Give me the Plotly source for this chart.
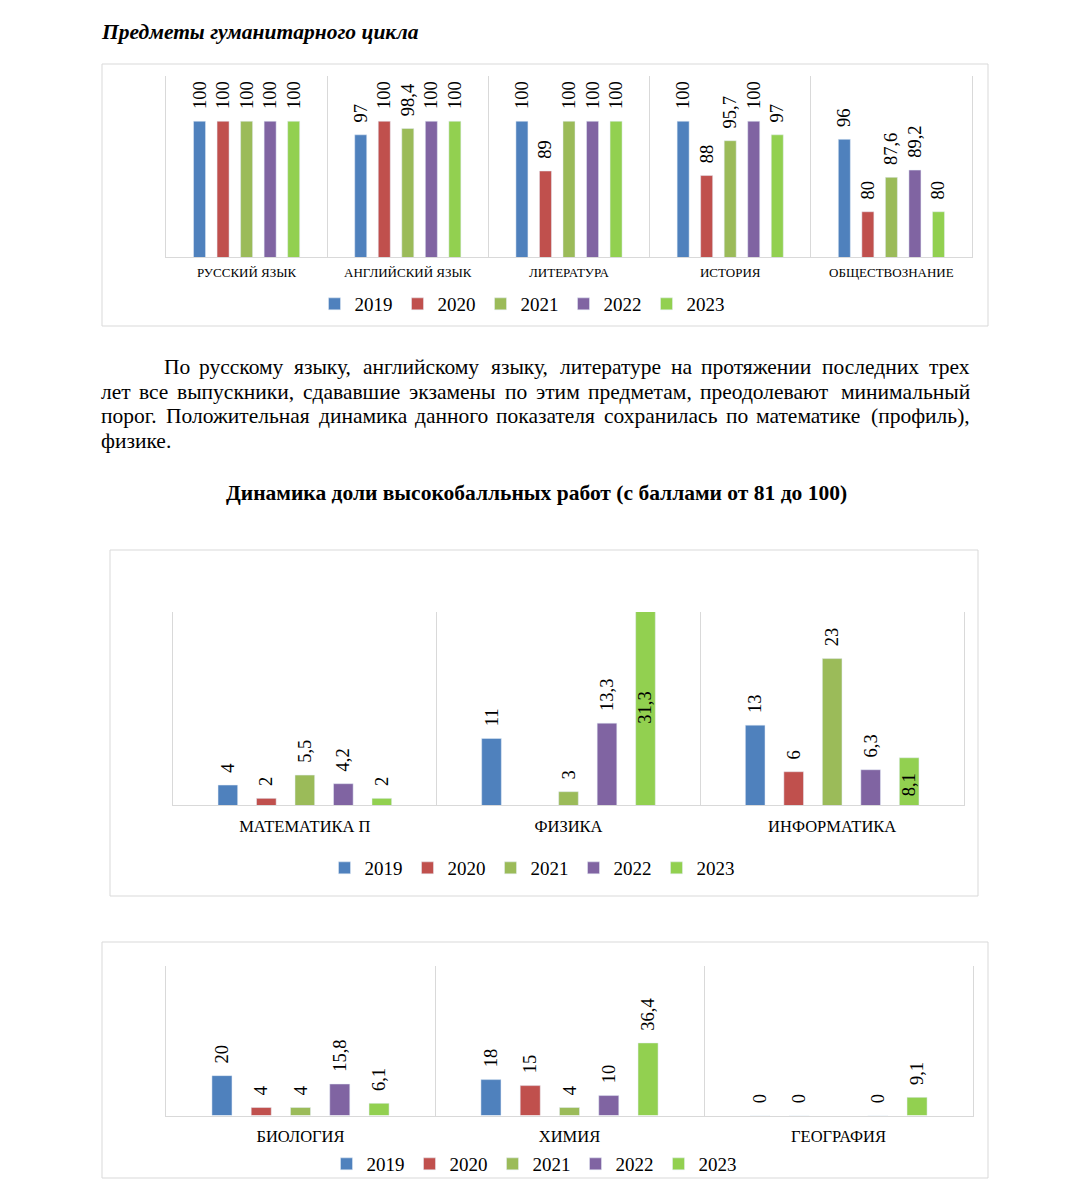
import plotly.graph_objects as go

# ---------------- data ----------------
years = ["2019", "2020", "2021", "2022", "2023"]
colors = ["#4F81BD", "#C0504D", "#9BBB59", "#8064A2", "#92D050"]

hum_cats = ["РУССКИЙ ЯЗЫК", "АНГЛИЙСКИЙ ЯЗЫК", "ЛИТЕРАТУРА", "ИСТОРИЯ", "ОБЩЕСТВОЗНАНИЕ"]
hum_2019 = [100, 97, 100, 100, 96]
hum_2020 = [100, 100, 89, 88, 80]
hum_2021 = [100, 98.4, 100, 95.7, 87.6]
hum_2022 = [100, 100, 100, 100, 89.2]
hum_2023 = [100, 100, 100, 97, 80]

hb1_cats = ["МАТЕМАТИКА П", "ФИЗИКА", "ИНФОРМАТИКА"]
hb1_2019 = [4, 11, 13]
hb1_2020 = [2, None, 6]
hb1_2021 = [5.5, 3, 23]
hb1_2022 = [4.2, 13.3, 6.3]
hb1_2023 = [2, 31.3, 8.1]

hb2_cats = ["БИОЛОГИЯ", "ХИМИЯ", "ГЕОГРАФИЯ"]
hb2_2019 = [20, 18, 0]
hb2_2020 = [4, 15, 0]
hb2_2021 = [4, 4, None]
hb2_2022 = [15.8, 10, 0]
hb2_2023 = [6.1, 36.4, 9.1]

heading = "Предметы гуманитарного цикла"
title2 = "Динамика доли высокобалльных работ (с баллами от 81 до 100)"
para_lines = [
    "По русскому языку, английскому языку, литературе на протяжении последних трех",
    "лет все выпускники, сдававшие экзамены по этим предметам, преодолевают минимальный",
    "порог. Положительная динамика данного показателя сохранилась по математике (профиль),",
    "физике.",
]

# ---------------- helpers ----------------
OFF = 8                       # page body margin
W, H = 1071 - 2 * OFF, 1200 - 2 * OFF
SERIF = "Liberation Serif"
GRID = "#D9D9D9"


def px(x):
    return (x - OFF) / W


def py(y):
    return 1 - (y - OFF) / H


def fmt(v):
    if v is None:
        return ""
    return f"{v:g}".replace(".", ",")


PAD = "\u00a0\u00a0"

fig = go.Figure()


def add_chart(cats, series, xa, ya, leg, clip, positions=None):
    for i, vals in enumerate(series):
        pos = positions[i] if positions and positions[i] else ["outside"] * len(vals)
        txt = []
        for v, p in zip(vals, pos):
            if v is None:
                txt.append("")
            elif p == "outside":
                txt.append(PAD + fmt(v))
            else:
                txt.append(fmt(v))
        fig.add_trace(go.Bar(
            x=cats, y=vals, name=years[i], marker_color=colors[i],
            text=txt, textposition=pos, textangle=-90,
            insidetextanchor="middle",
            textfont=dict(family=SERIF, size=18.5, color="black"),
            constraintext="none", cliponaxis=clip,
            xaxis=xa, yaxis=ya, legend=leg, hoverinfo="skip",
        ))


add_chart(hum_cats, [hum_2019, hum_2020, hum_2021, hum_2022, hum_2023], "x", "y", "legend", False)
add_chart(hb1_cats, [hb1_2019, hb1_2020, hb1_2021, hb1_2022, hb1_2023], "x2", "y2", "legend2", True,
          positions=[None, None, None, None, ["outside", "inside", "inside"]])
add_chart(hb2_cats, [hb2_2019, hb2_2020, hb2_2021, hb2_2022, hb2_2023], "x3", "y3", "legend3", True)


def xaxis(dom, size, standoff, anchor):
    return dict(domain=[px(dom[0]), px(dom[1])], anchor=anchor, type="category",
                tickson="boundaries", showgrid=True, gridcolor=GRID, gridwidth=1,
                showline=True, linecolor=GRID, linewidth=1, ticks="",
                tickfont=dict(family=SERIF, size=size, color="black"),
                ticklabelstandoff=standoff, fixedrange=True, zeroline=False)


def yaxis(dom, rng, anchor):
    return dict(domain=[py(dom[0]), py(dom[1])], range=rng, anchor=anchor,
                showgrid=False, showticklabels=False, zeroline=False, ticks="",
                showline=True, linecolor=GRID, linewidth=1, mirror=True, fixedrange=True)


def legend(x, y):
    return dict(orientation="h", x=px(x), xanchor="center", y=py(y), yanchor="middle",
                font=dict(family=SERIF, size=19, color="black"), bgcolor="rgba(0,0,0,0)",
                itemwidth=30, traceorder="normal")


# ---------- paragraph justification (Times metrics) ----------
CW = {'а': 444, 'б': 509, 'в': 472, 'г': 410, 'д': 509, 'е': 444, 'ж': 691, 'з': 395, 'и': 535,
      'й': 535, 'к': 486, 'л': 499, 'м': 633, 'н': 535, 'о': 500, 'п': 535, 'р': 500, 'с': 444,
      'т': 437, 'у': 500, 'ф': 648, 'х': 500, 'ц': 535, 'ч': 503, 'ш': 770, 'щ': 770, 'ъ': 517,
      'ы': 672, 'ь': 456, 'э': 429, 'ю': 747, 'я': 490, 'П': 722, ',': 250, '.': 250, '(': 333,
      ')': 333}


def word_w(w, size):
    return sum(CW.get(c, 500) for c in w) / 1000 * size


APAD = 3   # annotation inner padding
annotations = []
PSIZE = 21.5
line_y = [367, 392, 416, 441]
line_left = [165, 102, 102, 102]
RIGHT = 969
for k, line in enumerate(para_lines):
    words = line.split(" ")
    if k == len(para_lines) - 1 or len(words) == 1:
        annotations.append(dict(text=line, x=px(line_left[k] - APAD), y=py(line_y[k]), xref="paper", yref="paper",
                                xanchor="left", yanchor="middle", showarrow=False,
                                font=dict(family=SERIF, size=PSIZE, color="black")))
        continue
    widths = [word_w(w, PSIZE) for w in words]
    gap = (RIGHT - line_left[k] - sum(widths)) / (len(words) - 1)
    x = line_left[k]
    for j, (w, wd) in enumerate(zip(words, widths)):
        last = j == len(words) - 1
        annotations.append(dict(text=w, x=px(RIGHT + APAD if last else x - APAD), y=py(line_y[k]),
                                xref="paper", yref="paper",
                                xanchor="right" if last else "left", yanchor="middle", showarrow=False,
                                font=dict(family=SERIF, size=PSIZE, color="black")))
        x += wd + gap

annotations.append(dict(text="<b><i>" + heading + "</i></b>", x=px(102 - APAD), y=py(32), xref="paper", yref="paper",
                        xanchor="left", yanchor="middle", showarrow=False,
                        font=dict(family=SERIF, size=21.5, color="black")))
annotations.append(dict(text="<b>" + title2 + "</b>", x=px(536), y=py(493), xref="paper", yref="paper",
                        xanchor="center", yanchor="middle", showarrow=False,
                        font=dict(family=SERIF, size=21.5, color="black")))

shapes = []
for (x0, y0, x1, y1) in [(102, 64, 988, 326), (110, 550, 978, 896), (102, 942, 988, 1178)]:
    shapes.append(dict(type="rect", xref="paper", yref="paper", x0=px(x0), x1=px(x1), y0=py(y0), y1=py(y1),
                       line=dict(color=GRID, width=1), fillcolor="rgba(0,0,0,0)", layer="below"))

fig.update_layout(
    width=W, height=H, margin=dict(l=0, r=0, t=0, b=0),
    paper_bgcolor="white", plot_bgcolor="white",
    barmode="group", bargap=0.27, bargroupgap=0.49,
    xaxis=xaxis((166, 972), 13, 3, "y"), yaxis=yaxis((257, 76), [70, 110], "x"),
    xaxis2=xaxis((173, 964), 16.5, 6, "y2"), yaxis2=yaxis((805, 612), [1, 30], "x2"),
    xaxis3=xaxis((166, 973), 16.5, 6, "y3"), yaxis3=yaxis((1115.5, 966), [0, 75], "x3"),
    legend=legend(522, 304), legend2=legend(532, 868), legend3=legend(534, 1164),
    annotations=annotations, shapes=shapes,
    font=dict(family=SERIF, color="black"),
)

fig.write_html("out.html")
